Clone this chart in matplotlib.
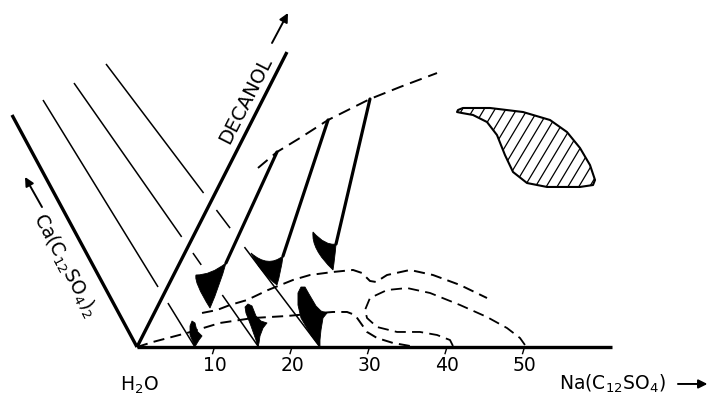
import numpy as np
import matplotlib
matplotlib.use("Agg")
import matplotlib.pyplot as plt
from matplotlib.path import Path
from matplotlib.patches import PathPatch, Polygon

plt.rcParams['font.family'] = ['DejaVu Sans']
plt.rcParams['mathtext.fontset'] = 'dejavusans'
plt.rcParams['lines.scale_dashes'] = False

# ---------------- diagram values (Na(C12SO4) wt% scale) ----------------
na_ticks = [10, 20, 30, 40, 50]
na_axis_end = 61.3
decanol_end = (19.35, 38.06)
ca_end = (-16.13, 29.94)

# tie lines from the Ca(C12SO4)2 side down to the Na(C12SO4) axis
tie_start_u = [-12.13, -8.13, -4.00]
tie_start_v = [31.87, 34.06, 36.52]
tie_end_u = [7.48, 15.70, 23.61]
tie_visible = [[(0.0, 0.757), (0.822, 1.0)],
               [(0.0, 0.583), (0.644, 0.689), (0.803, 1.0)],
               [(0.0, 0.456), (0.516, 0.580), (0.647, 1.0)]]

# upper dashed boundary (decanol side)
upper_u = [15.61, 18.06, 21.03, 24.65, 27.48, 30.06, 33.94, 38.71]
upper_v = [23.10, 25.16, 26.97, 29.29, 30.71, 32.00, 33.55, 35.35]
conj_top_idx = [1, 3, 5]
conj_bot_u = [11.48, 18.84, 25.68]
conj_bot_v = [10.84, 11.74, 13.29]

# middle dashed boundary
mid_u = [8.39, 10.32, 12.0, 14.19, 16.9, 20.13, 22.32, 25.29, 27.87, 29.03,
         30.06, 30.84, 32.26, 35.23, 38.19, 41.68, 45.16]
mid_v = [4.39, 4.77, 5.42, 6.06, 7.35, 8.65, 9.29, 9.68, 9.94, 9.55,
         8.52, 8.39, 9.29, 9.94, 9.29, 8.0, 6.32]

# lower dashed boundary from the water corner
low_u = [0, 2.06, 6.45, 10.71, 14.97, 19.35, 23.61, 25.29, 27.1, 28.13,
         28.77, 29.68, 30.97, 33.03, 35.23]
low_v = [0, 0.65, 1.81, 3.10, 3.74, 4.0, 4.39, 4.52, 4.52, 4.13,
         3.23, 1.94, 1.16, 0.52, 0.13]

# dash-dot loop between 40 and 50 %
loop_u = [40.77, 40.39, 38.71, 36.52, 33.55, 30.97, 29.68, 29.42, 30.06, 32.26,
          34.84, 37.81, 41.68, 45.16, 47.74, 49.42, 50.06]
loop_v = [0.13, 0.90, 1.55, 1.94, 1.94, 2.58, 3.74, 4.77, 6.32, 7.35,
          7.61, 6.97, 5.42, 3.87, 2.45, 1.16, 0.26]

# hatched region
hatch_u = [41.42, 42.06, 45.55, 49.81, 53.29, 55.48, 57.16, 58.45, 59.10, 58.84,
           57.16, 52.90, 50.32, 48.52, 47.48, 46.45, 45.16, 43.35, 41.94, 41.29]
hatch_v = [30.58, 30.84, 30.84, 30.32, 29.29, 27.74, 25.68, 23.48, 21.55, 20.90,
           20.65, 20.65, 21.16, 22.58, 24.77, 27.35, 29.03, 29.94, 30.19, 30.32]

# upper black lobes: tip, ctrl, top-left, ctrl, join, ctrl
upper_lobes = [
    [(9.42, 5.03), (7.35, 8.32), (7.61, 9.29), (9.55, 9.29), (11.48, 10.84), (10.71, 8.0)],
    [(18.06, 8.0), (15.87, 9.68), (14.71, 12.13), (16.90, 10.19), (18.84, 11.74), (18.58, 9.68)],
    [(25.29, 9.94), (22.45, 12.65), (22.71, 14.84), (24.32, 13.03), (25.68, 13.29), (25.55, 11.61)],
]
# lower black lobes on the Na axis
lower_lobes = [
    [(7.48, 0), (6.84, 1.55), (6.84, 2.71), (7.10, 3.35), (7.48, 3.10), (7.74, 2.06),
     (8.39, 1.42), (8.0, 0.90), (7.61, 0.26)],
    [(15.61, 0), (15.35, 0.90), (14.71, 2.71), (14.06, 4.39), (13.94, 5.16), (14.32, 5.55),
     (14.84, 5.29), (15.35, 4.0), (16.0, 3.35), (16.77, 3.10), (16.26, 2.45), (15.87, 1.42),
     (15.74, 0.52)],
    [(23.61, 0), (22.45, 1.55), (21.16, 3.74), (20.77, 5.42), (20.77, 6.97), (21.16, 7.74),
     (21.68, 7.74), (22.19, 6.84), (23.10, 5.29), (23.74, 4.65), (24.52, 4.39), (24.0, 3.74),
     (23.74, 2.19), (23.61, 0.90)],
]

# ---------------- figure ----------------
fig = plt.figure(figsize=(7.1, 3.98), dpi=100)
ax = fig.add_axes([0, 0, 1, 1])
ax.set_xlim(-137 / 7.75, (710 - 137) / 7.75)
ax.set_ylim((347 - 398) / 7.75, 347 / 7.75)
ax.axis('off')

K = 'black'
thick = 2.4
# axes
ax.plot([0, na_axis_end], [0, 0], color=K, lw=thick, solid_capstyle='butt')
ax.plot([0, decanol_end[0]], [0, decanol_end[1]], color=K, lw=thick, solid_capstyle='butt')
ax.plot([0, ca_end[0]], [0, ca_end[1]], color=K, lw=thick, solid_capstyle='butt')

# ticks and labels
for t in na_ticks:
    ax.plot([t, t - 0.25], [0, -0.85], color=K, lw=1.0)
    ax.text(t, -2.4, str(t), ha='center', va='center', fontsize=13.5)

# tie lines
for su, sv, eu, segs in zip(tie_start_u, tie_start_v, tie_end_u, tie_visible):
    for a, b in segs:
        ax.plot([su + a * (eu - su), su + b * (eu - su)],
                [sv + a * (0 - sv), sv + b * (0 - sv)], color=K, lw=1.1,
                solid_capstyle='butt')

# upper dashed curve and conjugate lines
ax.plot(upper_u, upper_v, color=K, lw=1.4, dashes=(9, 5))
for i, bu, bv in zip(conj_top_idx, conj_bot_u, conj_bot_v):
    ax.plot([upper_u[i], bu], [upper_v[i], bv], color=K, lw=2.3, solid_capstyle='round')

# middle, lower, loop curves
ax.plot(mid_u, mid_v, color=K, lw=1.4, dashes=(8, 4.5))
ax.plot(low_u, low_v, color=K, lw=1.4, dashes=(8, 4.5))
ax.plot(loop_u, loop_v, color=K, lw=1.3, dashes=(8, 4.5))

# lobes
for L in upper_lobes:
    T, C1, TL, C2, J, C3 = L
    verts = [T, C1, TL, C2, J, C3, T, T]
    codes = [Path.MOVETO, Path.CURVE3, Path.CURVE3, Path.CURVE3, Path.CURVE3,
             Path.CURVE3, Path.CURVE3, Path.CLOSEPOLY]
    ax.add_patch(PathPatch(Path(verts, codes), facecolor=K, edgecolor=K, lw=0.6, zorder=5))
for L in lower_lobes:
    ax.add_patch(Polygon(L, closed=True, facecolor=K, edgecolor=K, lw=0.6, zorder=5,
                         joinstyle='round'))

# hatched region
hp = Polygon(list(zip(hatch_u, hatch_v)), closed=True, facecolor='none', edgecolor=K,
             lw=1.5, joinstyle='round', zorder=4)
ax.add_patch(hp)
slope = 1.67
for k in range(-4, 20):
    u0 = 40.0 + k * 1.4
    vv = np.array([18.0, 33.0])
    uu = u0 + (vv - 18.0) / slope
    ln, = ax.plot(uu, vv, color=K, lw=0.9)
    ln.set_clip_path(hp)

# arrows and labels
ap = dict(arrowstyle='-|>', color=K, lw=1.4, mutation_scale=13, shrinkA=0, shrinkB=0)
ax.annotate('', xy=(19.48, 43.1), xytext=(17.42, 39.23), arrowprops=ap)
ax.annotate('', xy=(-14.45, 21.94), xytext=(-12.26, 18.06), arrowprops=ap)
ax.annotate('', xy=(73.6, -4.77), xytext=(69.8, -4.77), arrowprops=ap)

ax.text(14.06, 31.87, 'DECANOL', rotation=63, ha='center', va='center', fontsize=14,
        rotation_mode='anchor')
ax.text(-9.29, 10.58, r'Ca(C$_{12}$SO$_4$)$_2$', rotation=-62, ha='center', va='center',
        fontsize=13.5, rotation_mode='anchor')
ax.text(0.26, -4.9, r'H$_2$O', ha='center', va='center', fontsize=13.5)
ax.text(54.45, -4.77, r'Na(C$_{12}$SO$_4$)', ha='left', va='center', fontsize=13.5)

fig.savefig('out.png', dpi=100)
